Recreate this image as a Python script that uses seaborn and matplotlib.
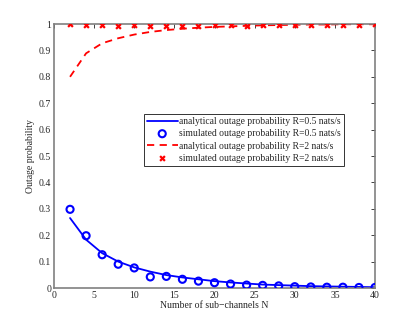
import matplotlib
matplotlib.use("Agg")
import matplotlib.pyplot as plt
import seaborn as sns
import pandas as pd

N = [2, 4, 6, 8, 10, 12, 14, 16, 18, 20, 22, 24, 26, 28, 30, 32, 34, 36, 38, 40]
ana_r05 = [0.265, 0.183, 0.132, 0.100, 0.078, 0.062, 0.049, 0.040, 0.033, 0.026,
           0.021, 0.017, 0.013, 0.011, 0.009, 0.007, 0.006, 0.005, 0.004, 0.003]
sim_r05 = [0.298, 0.198, 0.126, 0.090, 0.076, 0.042, 0.044, 0.033, 0.026, 0.020,
           0.015, 0.011, 0.010, 0.008, 0.005, 0.004, 0.003, 0.003, 0.002, 0.002]
ana_r2 = [0.800, 0.889, 0.927, 0.946, 0.960, 0.970, 0.977, 0.982, 0.986, 0.989,
          0.991, 0.993, 0.995, 0.996, 0.997, 0.998, 0.998, 0.999, 0.999, 0.999]
sim_r2 = [1.000, 0.996, 0.995, 0.994, 0.995, 0.994, 0.993, 0.994, 0.993, 0.995,
          0.995, 0.994, 0.996, 0.995, 0.995, 0.996, 0.995, 0.996, 0.996, 0.999]
labels = ["analytical outage probability R=0.5 nats/s",
          "simulated outage probability R=0.5 nats/s",
          "analytical outage probability R=2 nats/s",
          "simulated outage probability R=2 nats/s"]

df = pd.DataFrame({"N": N, "a05": ana_r05, "s05": sim_r05, "a2": ana_r2, "s2": sim_r2})

sns.set_style("white")
plt.rcParams["font.family"] = ["Liberation Serif", "DejaVu Serif"]
plt.rcParams["font.size"] = 7

fig = plt.figure(figsize=(4.15, 3.24), dpi=100)
ax = fig.add_axes([54/415, 1 - 288/324, (375-54)/415, (288-24)/324])

blue = "#0000ff"
red = "#ff0000"
sns.lineplot(data=df, x="N", y="a05", ax=ax, color=blue, lw=1.3, label=labels[0])
sns.scatterplot(data=df, x="N", y="s05", ax=ax, marker="o", s=26, facecolor="none",
                edgecolor=blue, linewidth=1.5, label=labels[1], zorder=3)
sns.lineplot(data=df, x="N", y="a2", ax=ax, color=red, lw=1.3, linestyle="--", label=labels[2])
ax.lines[-1].set_dashes([4, 3])
sns.scatterplot(data=df, x="N", y="s2", ax=ax, marker="x", s=12, color=red,
                linewidth=1.6, label=labels[3], zorder=3)

ax.set_xlim(0, 40)
ax.set_ylim(0, 1)
ax.set_xticks(range(0, 41, 5))
ax.set_yticks([i / 10 for i in range(11)])
ax.set_yticklabels(["0", "0.1", "0.2", "0.3", "0.4", "0.5", "0.6", "0.7", "0.8", "0.9", "1"])
ax.set_xlabel("Number of sub\u2212channels N", labelpad=1)
ax.set_ylabel("Outage probability", labelpad=3)
for s in ax.spines.values():
    s.set_visible(True)
    s.set_color("#808080")
    s.set_linewidth(1.2)
ax.tick_params(direction="in", length=3, width=0.7, color="#404040", top=True, right=True,
               labelsize=7, pad=2)

leg = ax.legend(loc="upper left", bbox_to_anchor=((144-54)/321, 1 - (114-24)/264),
                frameon=True, fancybox=False, edgecolor="black", fontsize=6.9,
                handlelength=3.2, handletextpad=0.2, borderpad=0.3, labelspacing=0.35,
                borderaxespad=0)
leg.get_frame().set_linewidth(0.7)

fig.savefig("out.png", dpi=100, facecolor="white")
